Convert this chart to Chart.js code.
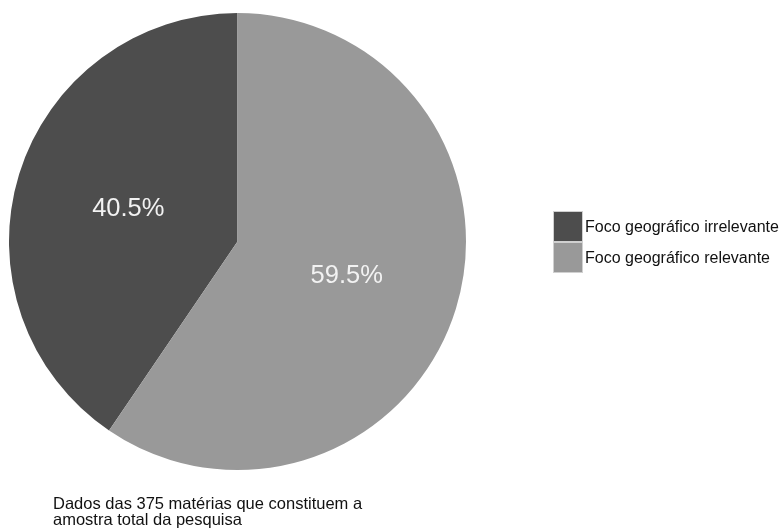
<!DOCTYPE html>
<html>
<head>
	<meta charset="utf-8">
	<title>Foco geográfico</title>
	<script src="https://cdn.jsdelivr.net/npm/chart.js"></script>
	<style>
		body {
			margin: 0px;
			padding: 0px;
			background: #ffffff;
			font-family: "Liberation Sans", Arial, sans-serif;
		}
		.wrap {
			position: relative;
			width: 783px;
			height: 529px;
		}
		#pieChart {
			position: absolute;
			left: 0px;
			top: 0px;
		}
		.legend {
			position: absolute;
			left: 553px;
			top: 211px;
		}
		.legend-item {
			display: flex;
			align-items: center;
			height: 31px;
			font-size: 16px;
			color: #111;
			white-space: nowrap;
		}
		.legend-box {
			width: 28px;
			height: 29px;
			border: 1px solid #d0d0d0;
			margin-right: 2px;
		}
		.caption {
			position: absolute;
			left: 53px;
			top: 495px;
			font-size: 16.5px;
			line-height: 16px;
			color: #111;
			white-space: nowrap;
		}
	</style>
</head>
<body>
	<div class="wrap">
		<canvas id="pieChart" width="783" height="529"></canvas>
		<div class="legend" id="legend"></div>
		<div class="caption">Dados das 375 matérias que constituem a<br>amostra total da pesquisa</div>
	</div>
	<script>
		var categories = ['Foco geográfico irrelevante', 'Foco geográfico relevante'];
		var percents = [40.5, 59.5];
		var colors = ['#4d4d4d', '#999999'];

		// html legend, same order as the data
		var legend = document.getElementById('legend');
		categories.forEach(function (name, i) {
			var item = document.createElement('div');
			item.className = 'legend-item';
			var box = document.createElement('div');
			box.className = 'legend-box';
			box.style.background = colors[i];
			item.appendChild(box);
			item.appendChild(document.createTextNode(name));
			legend.appendChild(item);
		});

		var sliceLabels = {
			id: 'sliceLabels',
			afterDatasetsDraw: function (chart) {
				var ctx = chart.ctx;
				var meta = chart.getDatasetMeta(0);
				ctx.save();
				ctx.font = '25.5px "Liberation Sans", Arial, sans-serif';
				ctx.fillStyle = '#f2f2f2';
				ctx.textAlign = 'center';
				ctx.textBaseline = 'middle';
				meta.data.forEach(function (arc, i) {
					var p = arc.tooltipPosition();
					ctx.fillText(percents[i].toFixed(1) + '%', p.x, p.y + 1);
				});
				ctx.restore();
			}
		};

		var ctx = document.getElementById('pieChart').getContext('2d');
		var chart = new Chart(ctx, {
			type: 'pie',
			data: {
				labels: categories,
				datasets: [{
					data: percents,
					backgroundColor: colors,
					borderWidth: 0
				}]
			},
			options: {
				responsive: false,
				animation: false,
				rotation: -percents[0] * 3.6,
				layout: {
					padding: { left: 9, right: 317, top: 12.5, bottom: 58.5 }
				},
				plugins: {
					legend: { display: false },
					tooltip: { enabled: false }
				}
			},
			plugins: [sliceLabels]
		});
	</script>
</body>
</html>
